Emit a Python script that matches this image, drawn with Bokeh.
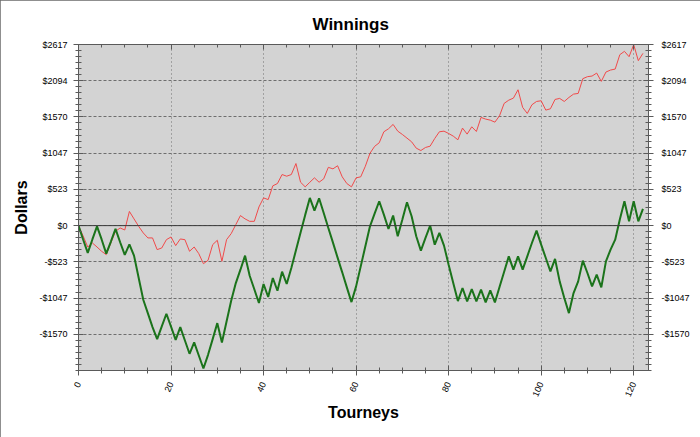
from bokeh.plotting import figure
from bokeh.models import FixedTicker, LinearAxis, Span, Range1d, CustomJSTickFormatter
from bokeh.embed import file_html
from bokeh.resources import INLINE

# ---------------- data ----------------
tourneys = list(range(123))

winnings_red = [
    0, -150, -309, -251, -309, -371, -420, -250, -82, -34,
    -63, 205, 97, -10, -106, -178, -178, -347, -323, -203,
    -164, -289, -193, -203, -371, -309, -405, -550, -502, -275,
    -212, -516, -203, -116, 14, 145, 97, 62, 62, 270,
    400, 376, 575, 608, 738, 714, 738, 897, 627, 560,
    627, 690, 627, 676, 842, 820, 865, 705, 608, 560,
    690, 705, 858, 1045, 1145, 1197, 1356, 1399, 1462, 1365,
    1317, 1264, 1211, 1119, 1085, 1129, 1148, 1259, 1356, 1365,
    1331, 1293, 1240, 1409, 1322, 1428, 1360, 1563, 1539, 1524,
    1495, 1587, 1766, 1813, 1842, 1963, 1708, 1621, 1746, 1794,
    1804, 1669, 1688, 1823, 1838, 1794, 1852, 1900, 1910, 2123,
    2152, 2161, 2204, 2084, 2219, 2248, 2262, 2470, 2518, 2441,
    2615, 2383, 2489,
]

winnings_green = [
    0, -200, -395, -200, -10, -200, -405, -230, -48, -240,
    -424, -270, -434, -753, -1071, -1269, -1466, -1640, -1457, -1274,
    -1460, -1650, -1466, -1660, -1852, -1688, -1877, -2065, -1867, -1640,
    -1409, -1688, -1385, -1085, -830, -637, -434, -724, -920, -1119,
    -844, -1032, -757, -941, -666, -844, -612, -357, -101, 155,
    400, 217, 395, 183, -34, -246, -463, -675, -892, -1105,
    -878, -589, -299, -10, 174, 352, 159, -48, 145, -154,
    87, 337, 135, -154, -362, -178, 0, -275, -106, -289,
    -564, -830, -1090, -902, -1095, -917, -1095, -926, -1110, -936,
    -1110, -887, -666, -444, -637, -444, -637, -444, -251, -72,
    -275, -468, -661, -482, -806, -1046, -1264, -974, -806, -507,
    -685, -878, -709, -892, -516, -347, -203, 87, 352, 62,
    352, 62, 241,
]

y_step = 2617 / 5
y_bottom = -4 * y_step
y_major = [k * y_step for k in range(-3, 6)]
y_tick_labels = ["-$1570", "-$1047", "-$523", "$0", "$523",
                 "$1047", "$1570", "$2094", "$2617"]
y_minor = [y_bottom + k * y_step / 6 for k in range(0, 55)]
x_major = [0, 20, 40, 60, 80, 100, 120]
x_tick_labels = ["0", "20", "40", "60", "80", "100", "120"]
x_minor = list(range(0, 125, 5))

# ---------------- layout constants ----------------
W, H = 700, 437
ML, MR, MT, MB = 78, 52, 44, 67
X_END = 123.2
FONT = "Liberation Sans"
AXIS_COL = "#5a5a5a"
GRID_COL = "#6e6e6e"

p = figure(width=W, height=H, x_range=Range1d(0, X_END),
           y_range=Range1d(y_bottom, y_major[-1]),
           output_backend="svg", toolbar_location=None,
           background_fill_color="#d3d3d3", border_fill_color="white",
           min_border_left=ML, min_border_right=MR,
           min_border_top=MT, min_border_bottom=MB,
           styles={"outline": "2px solid #6a6a6a", "outline-offset": "-2px"})
p.outline_line_color = None

# title
p.title.text = "Winnings"
p.title.align = "left"
p.title.offset = 234
p.title.text_font = FONT
p.title.text_font_size = "17px"
p.title.text_font_style = "bold"
p.title.text_color = "black"
p.title.standoff = 21

empty = CustomJSTickFormatter(code="return ''")
y_over = dict(zip(y_major, y_tick_labels))
x_over = dict(zip(x_major, x_tick_labels))


def style_axis(ax, ticker):
    ax.ticker = ticker
    ax.axis_line_color = AXIS_COL
    ax.major_tick_line_color = AXIS_COL
    ax.minor_tick_line_color = AXIS_COL
    ax.major_tick_in = 5
    ax.major_tick_out = 5
    ax.minor_tick_in = 3
    ax.minor_tick_out = 3
    ax.major_label_text_font = FONT
    ax.major_label_text_font_size = "9px"
    ax.major_label_text_color = "black"
    ax.axis_label_text_font = FONT
    ax.axis_label_text_font_size = "16px"
    ax.axis_label_text_font_style = "bold"
    ax.axis_label_text_color = "black"


xticker = FixedTicker(ticks=x_major, minor_ticks=x_minor)
yticker = FixedTicker(ticks=y_major, minor_ticks=y_minor)

# bottom axis
xa = p.xaxis[0]
style_axis(xa, xticker)
xa.major_label_overrides = x_over
xa.major_label_orientation = 1.15
xa.major_label_standoff = 7
xa.axis_label = "Tourneys"
xa.axis_label_standoff = 2

# left axis
ya = p.yaxis[0]
style_axis(ya, yticker)
ya.major_label_overrides = y_over
ya.major_label_standoff = 6
ya.axis_label = "Dollars"
ya.axis_label_standoff = 6

# right axis
ra = LinearAxis()
style_axis(ra, yticker)
ra.major_label_overrides = y_over
ra.major_label_standoff = 8
p.add_layout(ra, "right")

# top axis
ta = LinearAxis()
style_axis(ta, xticker)
ta.formatter = empty
ta.major_tick_out = 0
ta.minor_tick_out = 0
p.add_layout(ta, "above")

# grids
p.xgrid.ticker = xticker
p.ygrid.ticker = yticker
p.xgrid.grid_line_color = GRID_COL
p.xgrid.grid_line_dash = "1 3"
p.ygrid.grid_line_color = GRID_COL
p.ygrid.grid_line_dash = "3 2"

# zero line
p.add_layout(Span(location=0, dimension="width", line_color="#3c3c3c", line_width=1))

# series
p.line(tourneys, winnings_red, line_color="#f04a4a", line_width=1)
p.line(tourneys, winnings_green, line_color="#1b731b", line_width=2)

open("out.html", "w").write(file_html(p, INLINE))
